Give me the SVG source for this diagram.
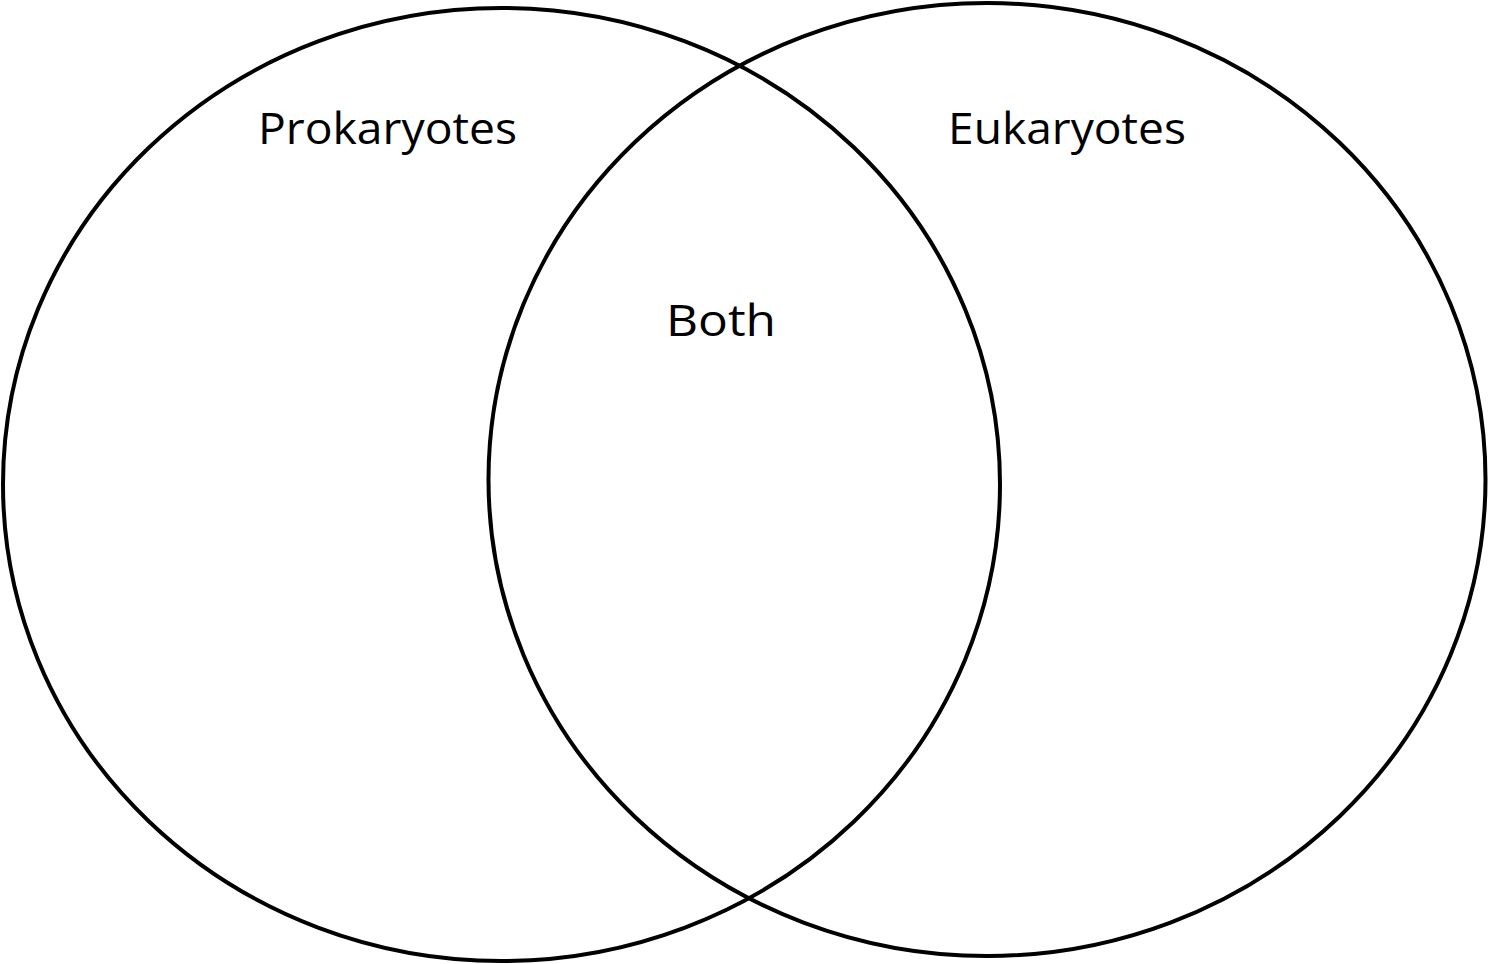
<svg xmlns="http://www.w3.org/2000/svg" width="1489" height="964" viewBox="0 0 1489 964">
<style>
.c{fill:none;stroke:#000;stroke-width:4}
.t{font-family:"Open Sans","Liberation Sans",sans-serif;font-size:44px;fill:#000;text-anchor:middle}
</style>
<rect width="1489" height="964" fill="#fff"/>
<g id="prokaryotes">
<ellipse class="c" cx="501.5" cy="484.5" rx="498.5" ry="476.5"/>
<text class="t" x="387.5" y="144" textLength="259" lengthAdjust="spacingAndGlyphs">Prokaryotes</text>
</g>
<g id="eukaryotes">
<ellipse class="c" cx="987" cy="479.5" rx="498.5" ry="476.5"/>
<text class="t" x="1067" y="144" textLength="238" lengthAdjust="spacingAndGlyphs">Eukaryotes</text>
</g>
<g id="both">
<text class="t" x="721" y="336" textLength="110" lengthAdjust="spacingAndGlyphs">Both</text>
</g>
<g id="connectors"/>
</svg>
